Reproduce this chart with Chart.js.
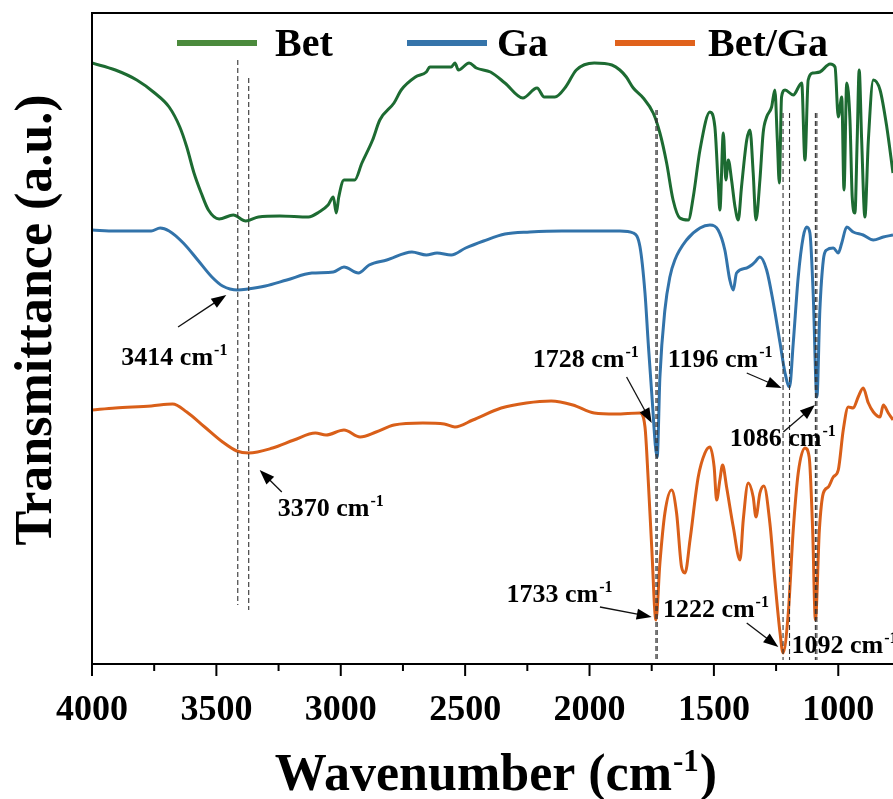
<!DOCTYPE html>
<html lang="en">
<head>
<meta charset="UTF-8">
<title>FTIR spectra - Bet, Ga, Bet/Ga</title>
<script src="https://cdn.jsdelivr.net/npm/chart.js"></script>
<style>
  html, body { margin: 0; padding: 0; background: #fff; }
  #wrap { width: 893px; height: 799px; position: relative; }
</style>
</head>
<body>
<div id="wrap"><canvas id="ftir"></canvas></div>
<script>
// wavenumber (cm-1) / transmittance (a.u., curves offset for stacking)
const betWn = [4000,3906,3820,3748,3690,3647,3619,3590,3561,3532,3489,3432,3382,3331,3245,3130,3087,3051,3030,3018,
  3008,2987,2944,2915,2872,2843,2786,2757,2700,2656,2642,2556,2541,2527,2484,2455,2398,2340,2268,2211,
  2182,2139,2096,2053,1981,1910,1878,1852,1824,1784,1744,1717,1690,1664,1637,1603,1583,1556,1516,1496,
  1483,1476,1462,1452,1442,1429,1415,1402,1389,1368,1355,1342,1331,1315,1302,1288,1268,1255,1245,1237,
  1228,1214,1181,1147,1134,1121,1101,1074,1033,1013,1000,986,977,966,953,944,933,924,916,906,
  893,879,859,832,805,780];
const betT = [60.1,59.4,58.4,57.1,55.7,53.7,51.7,49.1,47.1,45.4,44.5,44.9,44.3,44.7,44.8,44.7,45.2,45.9,46.7,45.1,
  46.7,48.4,48.4,50.1,52.4,54.4,56.1,57.4,58.7,59.2,59.7,59.7,60.1,59.4,60.1,59.6,59.2,58.1,56.6,57.6,
  56.7,56.7,57.7,59.4,60.1,59.9,59.4,58.7,57.6,56.6,55.1,53.1,50.1,46.4,44.6,44.4,46.7,51.4,55.2,53.7,
  48.1,45.4,53.1,48.4,50.4,48.4,45.7,44.4,47.7,52.4,53.4,49.1,44.4,48.4,53.1,54.7,55.7,57.4,52.4,48.1,
  56.7,57.4,56.9,58.1,50.4,58.4,59.1,59.2,60.0,59.7,54.7,56.7,47.4,58.1,54.4,46.7,45.1,52.4,59.4,52.4,
  44.7,52.4,58.4,57.4,53.7,49.1];

const gaWn = [4000,3906,3762,3726,3690,3633,3575,3518,3475,3414,3374,3303,3217,3116,3030,2987,2929,2886,2815,2714,
  2656,2613,2556,2498,2426,2340,2240,2111,1967,1878,1824,1797,1777,1764,1750,1728,1717,1697,1677,1657,
  1610,1556,1516,1483,1456,1436,1422,1409,1368,1348,1335,1315,1288,1261,1234,1214,1196,1181,1161,1141,
  1127,1114,1101,1086,1074,1060,1047,1020,1000,986,966,940,900,859,819,780];
const gaT = [43.4,43.3,43.3,43.6,43.3,42.1,40.4,38.7,37.8,37.4,37.5,37.8,38.4,39.1,39.2,39.7,39.1,39.9,40.4,41.2,
  40.9,41.1,40.9,41.6,42.3,43.0,43.2,43.3,43.3,43.3,43.1,41.7,37.1,32.1,27.1,20.7,28.7,35.4,38.7,40.4,
  42.4,43.6,43.9,43.4,41.4,38.4,37.4,39.1,39.6,39.9,40.2,40.7,39.4,36.1,32.1,29.1,27.7,32.1,38.7,42.7,
  43.7,43.1,37.1,26.7,35.4,40.4,41.4,41.6,41.1,42.1,43.7,43.2,42.9,42.4,42.7,42.9];

const bgWn = [4000,3906,3762,3676,3619,3547,3475,3418,3370,3274,3188,3102,3059,2987,2922,2858,2786,2670,2584,2541,
  2469,2355,2254,2154,2067,1981,1895,1797,1777,1764,1750,1733,1717,1697,1670,1650,1630,1616,1596,1563,
  1536,1516,1499,1489,1476,1465,1449,1422,1395,1382,1362,1342,1331,1315,1299,1275,1255,1234,1222,1201,
  1181,1161,1134,1117,1103,1092,1076,1060,1040,1020,1000,980,960,940,920,900,879,859,832,819,
  799,780];
const bgT = [25.4,25.6,25.8,26.0,25.2,23.7,22.2,21.3,21.1,21.6,22.4,23.1,22.9,23.4,22.7,23.2,23.9,24.1,24.0,23.7,
  24.4,25.6,26.1,26.3,25.9,25.1,25.0,25.1,23.7,18.4,11.7,4.4,10.1,15.1,17.4,15.1,9.7,9.1,12.4,18.7,
  21.1,21.7,19.7,16.4,18.4,19.9,17.7,13.7,10.4,14.4,18.1,16.7,14.7,17.1,17.8,14.1,8.4,3.1,1.1,5.1,
  13.4,19.1,21.6,20.7,13.4,4.4,13.4,17.1,17.7,18.7,19.4,23.4,25.7,25.6,26.7,27.6,26.1,25.2,24.7,25.9,
  25.1,24.4];

const seriesNames = ['Bet', 'Ga', 'Bet/Ga'];
const xTicks = [4000,3750,3500,3250,3000,2750,2500,2250,2000,1750,1500,1250,1000];

// dashed guides at the marked bands
const guideWn  = [3414, 3370, 1733, 1728, 1222, 1196, 1092, 1086];
const guideTop = [60.4, 58.6, 55.4, 55.4, 55.1, 55.1, 55.1, 55.1];
const guideBot = [5.9, 5.4, 0.4, 0.4, 0.4, 0.4, 0.4, 0.4];

// band labels: text anchor, arrow tail, arrow head (wavenumber, a.u.)
const bandText = ['3414', '3370', '1728', '1196', '1086', '1733', '1222', '1092'];
const bandTextAt = [[3882,29.9],[3253,14.8],[2228,29.7],[1685,29.7],[1436,21.8],[2334,6.2],[1705,4.7],[1188,1.1]];
const bandFrom = [[3654,33.7],[3237,17.2],[1851,28.7],[1368,29.1],[1221,23.2],[1958,5.7],[1368,4.1],null];
const bandTo   = [[3460,36.9],[3326,19.4],[1750,24.1],[1228,27.6],[1094,25.9],[1750,4.7],[1241,1.7],null];

const lineColors   = ['#1d6b32', '#3273aa', '#d95f19'];
const legendColors = ['#4b8a3c', '#3574aa', '#e0621c'];
const serif = '"Liberation Serif", "Times New Roman", serif';

const toPoints = (wn, t) => wn.map((w, i) => ({ x: w, y: t[i] }));

// text with a "-1" superscript, returns width; draw=false just measures
function supText(ctx, x, y, size, base, sup, tail, draw = true) {
  ctx.font = `bold ${size}px ${serif}`;
  if (draw) ctx.fillText(base, x, y);
  let w = ctx.measureText(base).width + 1;
  ctx.font = `bold ${Math.round(size * 0.6)}px ${serif}`;
  if (draw) ctx.fillText(sup, x + w, y - size * 0.37);
  w += ctx.measureText(sup).width;
  if (tail) {
    ctx.font = `bold ${size}px ${serif}`;
    if (draw) ctx.fillText(tail, x + w + 1, y);
    w += 1 + ctx.measureText(tail).width;
  }
  return w;
}

function arrow(ctx, x0, y0, x1, y1) {
  const a = Math.atan2(y1 - y0, x1 - x0), L = 15, H = 5.5;
  const c = Math.cos(a), s = Math.sin(a);
  ctx.beginPath();
  ctx.moveTo(x0, y0);
  ctx.lineTo(x1 - L * 0.8 * c, y1 - L * 0.8 * s);
  ctx.stroke();
  ctx.beginPath();
  ctx.moveTo(x1, y1);
  ctx.lineTo(x1 - L * c + H * s, y1 - L * s - H * c);
  ctx.lineTo(x1 - L * c - H * s, y1 - L * s + H * c);
  ctx.closePath();
  ctx.fill();
}

const decor = {
  id: 'decor',
  afterDatasetsDraw(chart) {
    const { ctx, scales: { x, y } } = chart;
    ctx.save();
    ctx.strokeStyle = '#333';
    ctx.lineWidth = 1.1;
    ctx.setLineDash([5, 3]);
    guideWn.forEach((w, i) => {
      const px = x.getPixelForValue(w);
      ctx.beginPath();
      ctx.moveTo(px, y.getPixelForValue(guideTop[i]));
      ctx.lineTo(px, y.getPixelForValue(guideBot[i]));
      ctx.stroke();
    });
    ctx.setLineDash([]);
    ctx.strokeStyle = '#111';
    ctx.fillStyle = '#000';
    ctx.lineWidth = 1.3;
    bandText.forEach((t, i) => {
      if (bandFrom[i]) {
        arrow(ctx, x.getPixelForValue(bandFrom[i][0]), y.getPixelForValue(bandFrom[i][1]),
          x.getPixelForValue(bandTo[i][0]), y.getPixelForValue(bandTo[i][1]));
      }
      ctx.textAlign = 'left';
      ctx.textBaseline = 'alphabetic';
      supText(ctx, x.getPixelForValue(bandTextAt[i][0]), y.getPixelForValue(bandTextAt[i][1]), 26, t + ' cm', '-1');
    });
    ctx.restore();
  },
  afterDraw(chart) {
    const { ctx, chartArea: a, scales: { x } } = chart;
    ctx.save();
    // frame: top, left, bottom
    ctx.strokeStyle = '#000';
    ctx.lineWidth = 2;
    ctx.beginPath();
    ctx.moveTo(chart.width + 2, a.top);
    ctx.lineTo(a.left, a.top);
    ctx.lineTo(a.left, a.bottom);
    ctx.lineTo(chart.width + 2, a.bottom);
    ctx.stroke();
    // major / minor tick marks
    x.ticks.forEach(t => {
      const px = x.getPixelForValue(t.value);
      ctx.beginPath();
      ctx.moveTo(px, a.bottom);
      ctx.lineTo(px, a.bottom + (t.value % 500 === 0 ? 12 : 7));
      ctx.stroke();
    });
    // axis titles
    ctx.fillStyle = '#000';
    ctx.textBaseline = 'alphabetic';
    ctx.textAlign = 'left';
    const tw = supText(ctx, 0, 0, 52, 'Wavenumber (cm', '-1', ')', false);
    supText(ctx, 496 - tw / 2, 790, 52, 'Wavenumber (cm', '-1', ')');
    ctx.save();
    ctx.translate(38, 320);
    ctx.rotate(-Math.PI / 2);
    ctx.textAlign = 'center';
    ctx.textBaseline = 'middle';
    ctx.font = `bold 52px ${serif}`;
    ctx.fillText('Transmittance (a.u.)', 0, 0);
    ctx.restore();
    // legend row
    const barX = [177, 407, 615], textX = [275, 497, 708];
    ctx.font = `bold 40px ${serif}`;
    ctx.textAlign = 'left';
    ctx.textBaseline = 'alphabetic';
    chart.data.datasets.forEach((ds, i) => {
      ctx.fillStyle = legendColors[i];
      ctx.fillRect(barX[i], 40, 80, 6);
      ctx.fillStyle = '#000';
      ctx.fillText(ds.label, textX[i], 56);
    });
    ctx.restore();
  }
};

new Chart(document.getElementById('ftir'), {
  type: 'line',
  data: {
    datasets: [
      { label: seriesNames[0], data: toPoints(betWn, betT), borderColor: lineColors[0] },
      { label: seriesNames[1], data: toPoints(gaWn, gaT), borderColor: lineColors[1] },
      { label: seriesNames[2], data: toPoints(bgWn, bgT), borderColor: lineColors[2] }
    ]
  },
  options: {
    responsive: true,
    maintainAspectRatio: false,
    animation: false,
    layout: { padding: { top: 13, left: 0, right: 0, bottom: 0 } },
    elements: {
      point: { radius: 0 },
      line: { borderWidth: 3, cubicInterpolationMode: 'monotone', fill: false }
    },
    plugins: { legend: { display: false }, tooltip: { enabled: false } },
    scales: {
      x: {
        type: 'linear',
        reverse: true,
        min: 780,
        max: 4000,
        grid: { display: false },
        border: { display: false },
        afterBuildTicks: s => { s.ticks = xTicks.map(v => ({ value: v })); },
        afterFit: s => { s.height = 135; },
        ticks: {
          autoSkip: false,
          maxRotation: 0,
          padding: 17,
          color: '#000',
          font: { family: serif, size: 36, weight: 'bold' },
          callback: v => (v % 500 === 0 ? String(v) : '')
        }
      },
      y: {
        min: 0,
        max: 65.1,
        grid: { display: false },
        border: { display: false },
        ticks: { display: false },
        afterFit: s => { s.width = 92; }
      }
    }
  },
  plugins: [decor]
});
</script>
</body>
</html>
